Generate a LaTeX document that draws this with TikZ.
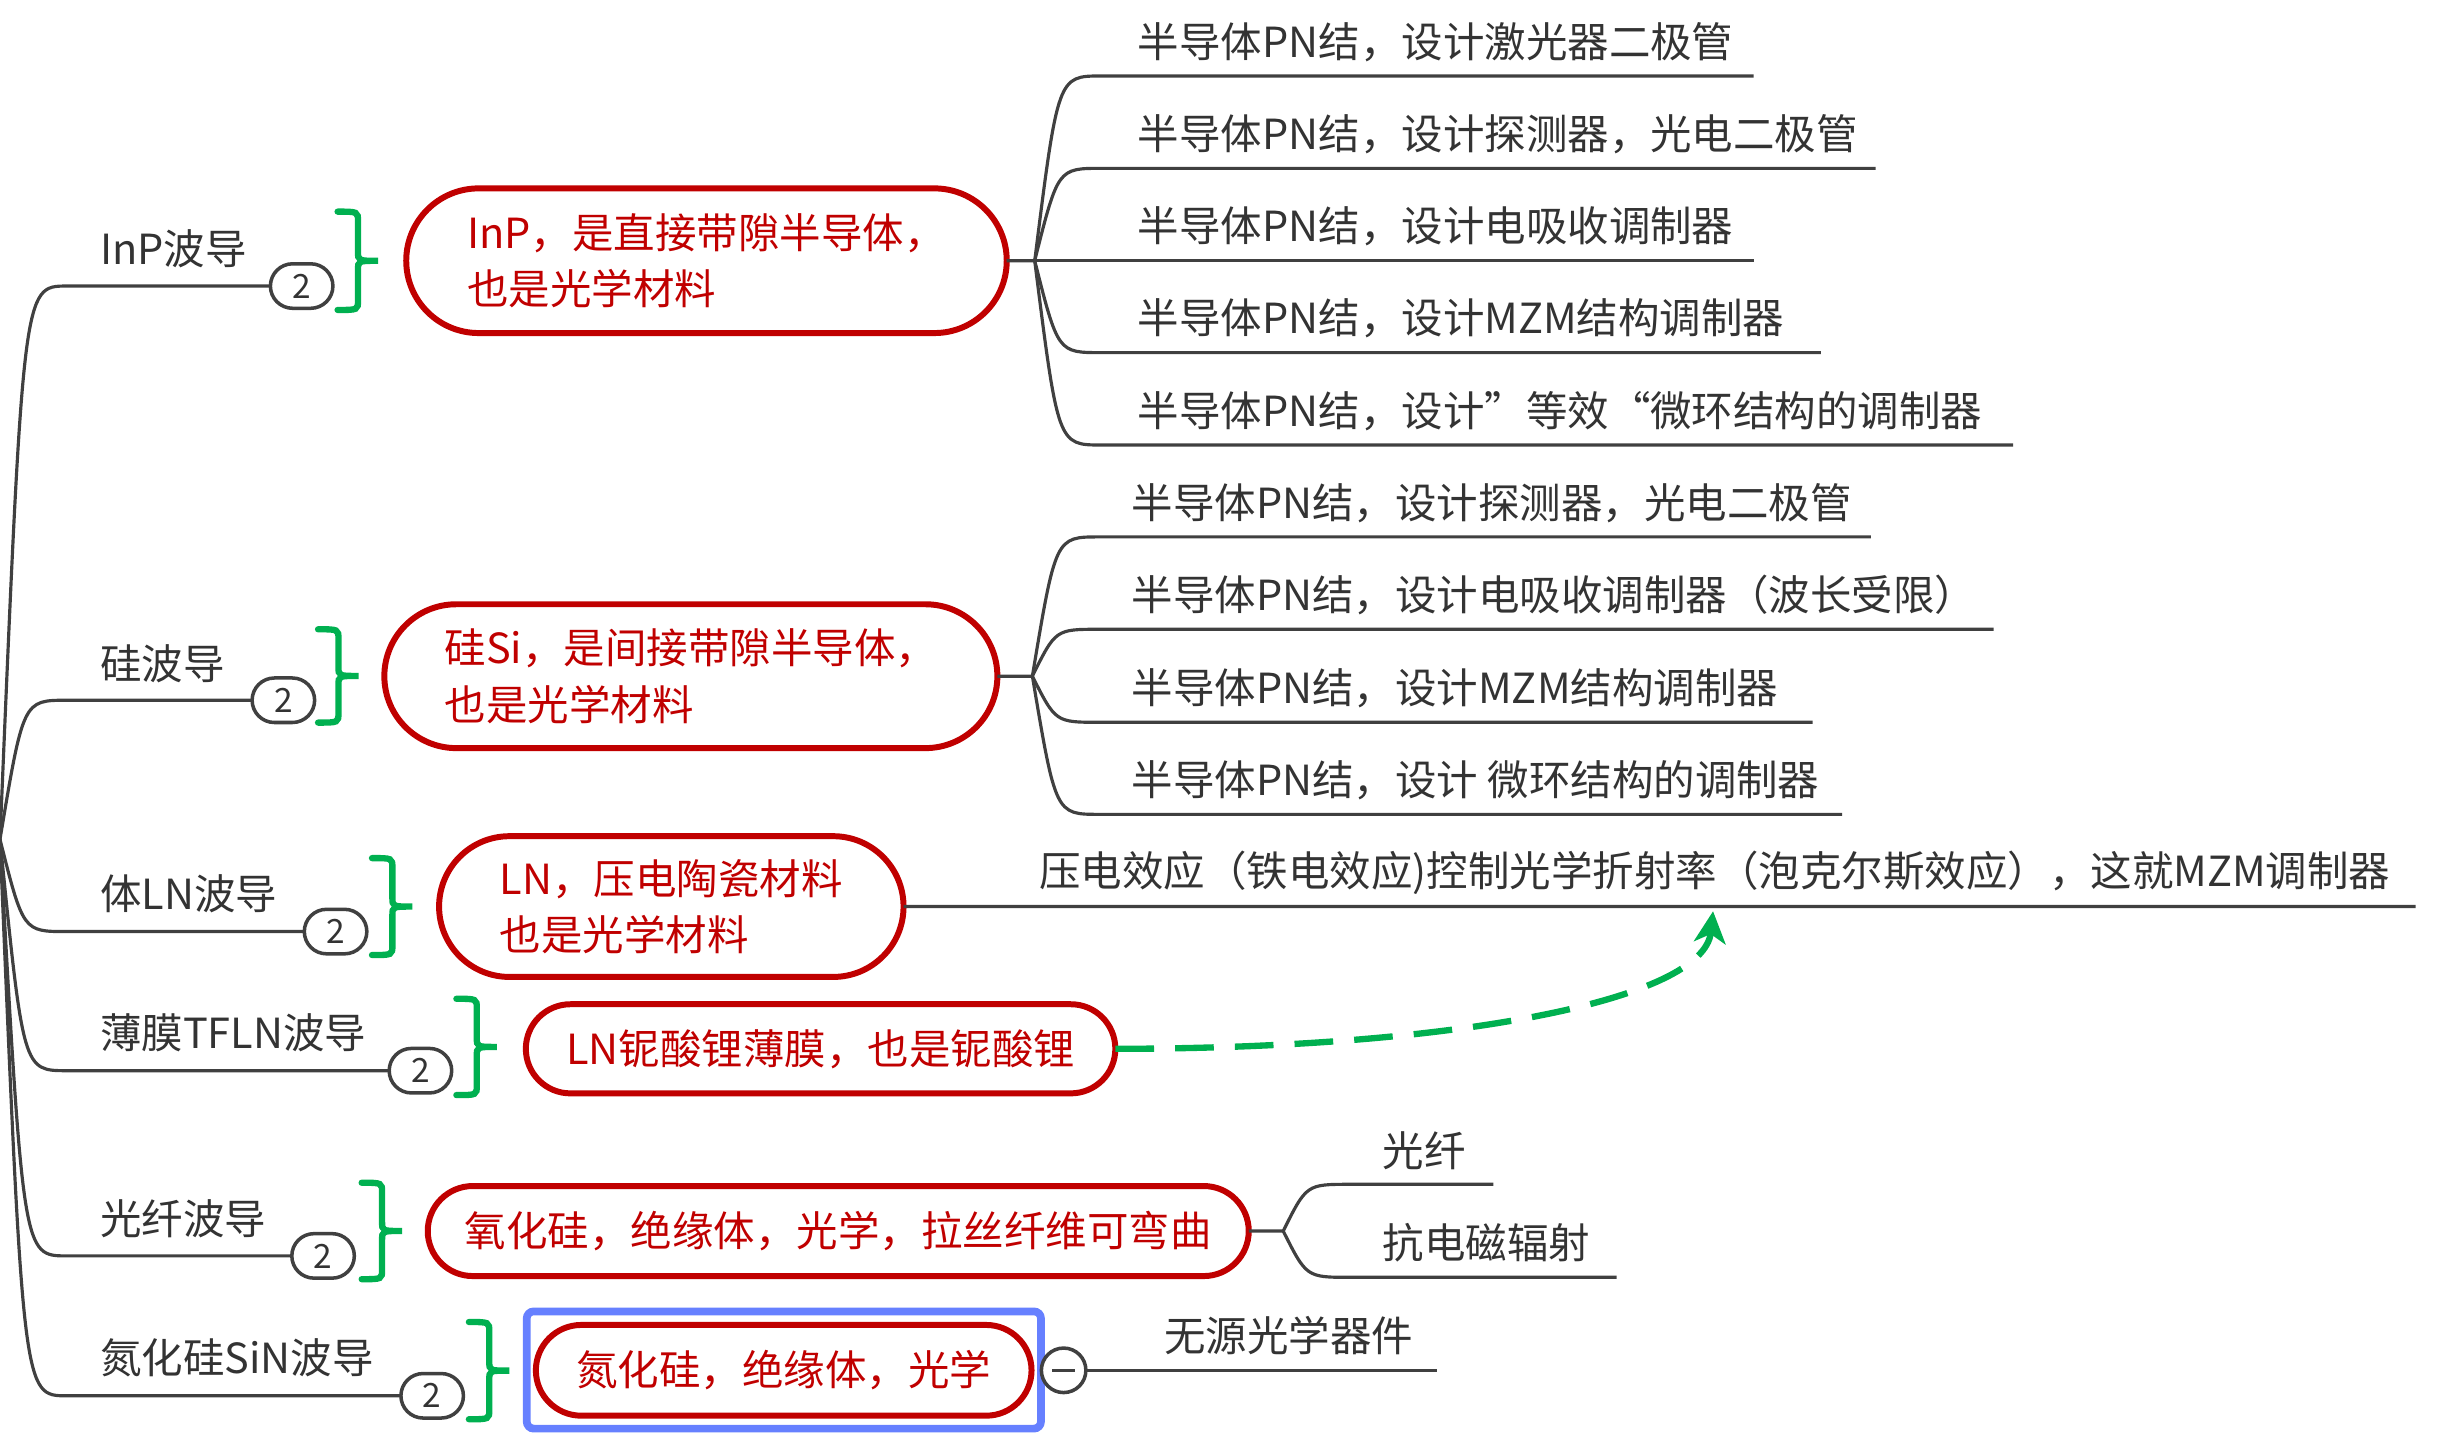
\documentclass[tikz,border=0pt]{standalone}
\usepackage{fontspec}
\setmainfont{Noto Sans CJK SC}
\usetikzlibrary{calc,shapes.misc,arrows.meta}
\definecolor{boxred}{RGB}{192,0,0}
\definecolor{bracegreen}{RGB}{0,176,80}
\definecolor{linegray}{RGB}{64,64,64}
\definecolor{txtgray}{RGB}{51,51,51}
\definecolor{selblue}{RGB}{102,128,255}
\begin{document}
\begin{tikzpicture}[x=0.015632cm,y=-0.015632cm,inner sep=0pt,outer sep=0pt,
font=\fontsize{11.8}{16}\selectfont,text=txtgray,
branch/.style={draw=linegray,line width=0.9pt},
twig/.style={to path={let \p1=(\tikztostart),\p2=(\tikztotarget) in (\p1) .. controls (\x1+6.6pt,\y2) .. (\x1+19pt,\y2) -- (\tikztotarget)}},
topic/.style={anchor=base west},
count/.style={draw=linegray,fill=white,line width=1pt,rounded rectangle,minimum width=0.625cm,minimum height=0.445cm,font=\fontsize{9.5}{10}\selectfont},
redbox/.style={draw=boxred,text=boxred,line width=1.7pt,rounded rectangle,align=left},
gbrace/.style={draw=bracegreen,line width=1.8pt,line cap=round,to path={let \p1=(\tikztostart),\p2=(\tikztotarget),\p3=($(\p1)!.5!(\p2)$) in
  (\p1) .. controls (\x1+5.8pt,\y1) .. (\x1+5.8pt,\y1-2.8pt) -- (\x1+5.8pt,\y3+2.6pt)
  .. controls (\x1+5.8pt,\y3) .. (\x1+11.5pt,\y3) .. controls (\x1+5.8pt,\y3) .. (\x1+5.8pt,\y3-2.6pt)
  -- (\x1+5.8pt,\y2+2.8pt) .. controls (\x1+5.8pt,\y2) .. (\p2)}},
link/.style={draw=bracegreen,line width=1.8pt,dash pattern=on 11pt off 6pt,-{Stealth[length=9pt,width=9pt,inset=2.5pt]}},
selbox/.style={draw=selblue,line width=2.2pt,rounded corners=2pt},
fold/.style={draw=linegray,fill=white,line width=1pt,circle,minimum size=0.445cm,
  path picture={\draw[linegray,line width=1pt] ([xshift=-3.2pt]path picture bounding box.center) -- ([xshift=3.2pt]path picture bounding box.center);}}]

\useasboundingbox (0,0) rectangle (1566.2,921.3);
\coordinate (root) at (0,537);

\node[topic] (t1) at (64,169) {InP波导};
\node[topic] (t2) at (64,434.5) {硅波导};
\node[topic] (t3) at (64,582) {体LN波导};
\node[topic] (t4) at (64,671) {薄膜TFLN波导};
\node[topic] (t5) at (64,789.5) {光纤波导};
\node[topic] (t6) at (64,879) {氮化硅SiN波导};

\node[count] (c1) at (193,183) {2};
\node[count] (c2) at (181.3,448) {2};
\node[count] (c3) at (214.7,596) {2};
\node[count] (c4) at (269,685) {2};
\node[count] (c5) at (206.7,803.5) {2};
\node[count] (c6) at (276.5,893) {2};

\draw[gbrace] (216,135.4) to (216,198.3);
\draw[gbrace] (203.5,402.6) to (203.5,462.3);
\draw[gbrace] (238,549) to (238,611);
\draw[gbrace] (292,639) to (292,700.6);
\draw[gbrace] (231.4,756.7) to (231.4,818.4);
\draw[gbrace] (300,845.8) to (300,908);

\node[redbox,minimum width=6.003cm,minimum height=1.446cm] (r1) at (452,166.8) {InP，是直接带隙半导体，\\也是光学材料};
\node[redbox,minimum width=6.128cm,minimum height=1.438cm] (r2) at (442,432.6) {硅Si，是间接带隙半导体，\\也是光学材料};
\node[redbox,minimum width=4.643cm,minimum height=1.407cm] (r3) at (429.5,580) {LN，压电陶瓷材料\\也是光学材料};
\node[redbox,minimum width=5.893cm,minimum height=0.891cm] (r4) at (525,671) {LN铌酸锂薄膜，也是铌酸锂};
\node[redbox,minimum width=8.207cm,minimum height=0.900cm] (r5) at (536.3,787.6) {氧化硅，绝缘体，光学，拉丝纤维可弯曲};
\node[redbox,minimum width=4.955cm,minimum height=0.907cm] (r6) at (501.4,876.7) {氮化硅，绝缘体，光学};
\draw[selbox] (337,839) rectangle (666,914);
\node[fold] (m6) at (680.5,876.7) {};

\coordinate (bp1) at (662,166.8);
\coordinate (bp2) at (660.5,432.6);
\coordinate (bp5) at (821,787.6);
\coordinate (hit) at (1096,583);

\node[topic] (s11) at (728,36.6) {半导体PN结，设计激光器二极管};
\node[topic] (s12) at (728,95.7) {半导体PN结，设计探测器，光电二极管};
\node[topic] (s13) at (728,154.8) {半导体PN结，设计电吸收调制器};
\node[topic] (s14) at (728,213.6) {半导体PN结，设计MZM结构调制器};
\node[topic] (s15) at (728,272.7) {半导体PN结，设计”等效“微环结构的调制器};
\node[topic] (s21) at (724,331.5) {半导体PN结，设计探测器，光电二极管};
\node[topic] (s22) at (724,390.6) {半导体PN结，设计电吸收调制器（波长受限）};
\node[topic] (s23) at (724,450.1) {半导体PN结，设计MZM结构调制器};
\node[topic] (s24) at (724,509) {半导体PN结，设计 微环结构的调制器};
\node[topic] (s3) at (665,567) {压电效应（铁电效应)控制光学折射率（泡克尔斯效应），这就MZM调制器};
\node[topic] (s51) at (884.6,746) {光纤};
\node[topic] (s52) at (884.6,805) {抗电磁辐射};
\node[topic] (s6) at (745,864.5) {无源光学器件};

\draw[branch] (root) to[twig] (c1);
\draw[branch] (root) to[twig] (c2);
\draw[branch] (root) to[twig] (c3);
\draw[branch] (root) to[twig] (c4);
\draw[branch] (root) to[twig] (c5);
\draw[branch] (root) to[twig] (c6);

\draw[branch] (r1) -- (bp1);
\draw[branch] (bp1) to[twig] (1122,48.6);
\draw[branch] (bp1) to[twig] (1200,107.7);
\draw[branch] (bp1) -- (1122,166.8);
\draw[branch] (bp1) to[twig] (1165,225.6);
\draw[branch] (bp1) to[twig] (1288,284.7);

\draw[branch] (r2) -- (bp2);
\draw[branch] (bp2) to[twig] (1197,343.5);
\draw[branch] (bp2) to[twig] (1275.5,402.6);
\draw[branch] (bp2) to[twig] (1159.7,462.1);
\draw[branch] (bp2) to[twig] (1178.6,521);

\draw[branch] (r3) -- (1545.5,580);
\draw[link] (r4) .. controls (930,671) and (1090,640) .. (hit);

\draw[branch] (r5) -- (bp5);
\draw[branch] (bp5) to[twig] (955.4,757.7);
\draw[branch] (bp5) to[twig] (1034.3,817.2);

\draw[branch] (m6) -- (919.4,876.7);
\end{tikzpicture}
\end{document}
